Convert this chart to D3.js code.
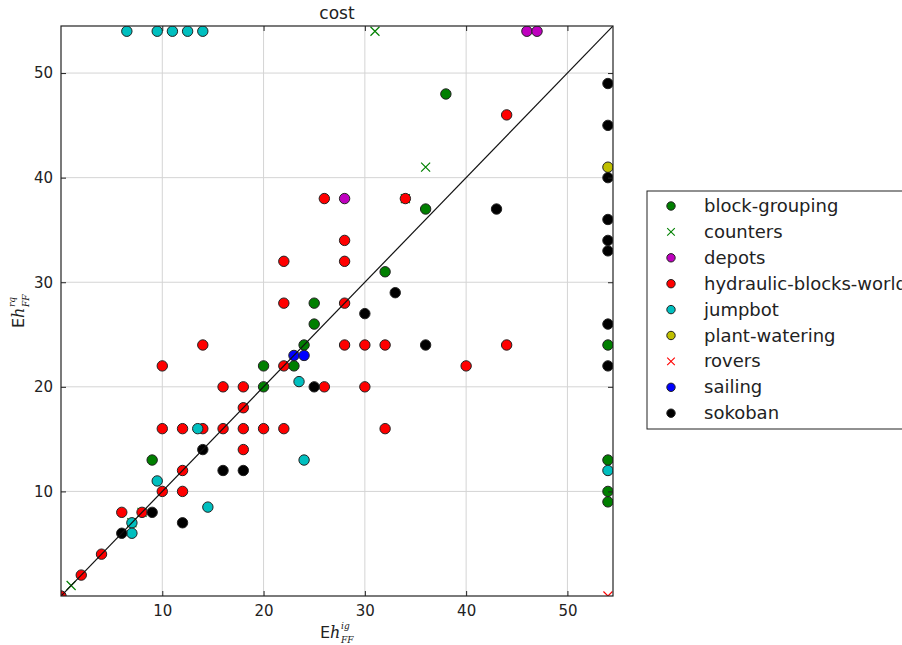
<!DOCTYPE html>
<html>
<head>
<meta charset="utf-8">
<script src="https://cdn.jsdelivr.net/npm/d3@7"></script>
<style>
  body { margin: 0; background: #fff; }
  svg { display: block; font-family: "DejaVu Sans", sans-serif; }
</style>
</head>
<body>
<div id="chart"></div>
<script>
// series values, [Eh_FF^ig, Eh_FF^rq]
const blockGrouping = [[38, 48], [36, 37], [32, 31], [25, 28], [25, 26], [24, 24], [23, 22], [20, 22], [20, 20], [9, 13],
  [54, 24], [54, 13], [54, 10], [54, 9]];
const counters = [[31, 54], [36, 41], [34, 38], [8, 8], [7, 7], [1, 1]];
const depots = [[46, 54], [47, 54], [28, 38]];
const hydraulic = [[44, 46], [26, 38], [34, 38], [28, 34], [22, 32], [28, 32], [22, 28], [28, 28], [14, 24], [28, 24],
  [30, 24], [32, 24], [44, 24], [10, 22], [22, 22], [40, 22], [16, 20], [18, 20], [26, 20], [30, 20], [18, 18],
  [10, 16], [12, 16], [14, 16], [16, 16], [18, 16], [20, 16], [22, 16], [32, 16], [18, 14], [12, 12], [12, 10],
  [10, 10], [6, 8], [8, 8], [4, 4], [2, 2], [0, 0]];
const jumpbot = [[6.5, 54], [9.5, 54], [11, 54], [12.5, 54], [14, 54], [23.5, 20.5], [24, 13], [13.5, 16], [9.5, 11],
  [14.5, 8.5], [7, 7], [7, 6], [54, 12]];
const plantWatering = [[54, 41]];
const rovers = [[54, 0]];
const sailing = [[23, 23], [24, 23]];
const sokoban = [[54, 49], [54, 45], [54, 40], [54, 36], [54, 34], [54, 33], [54, 26], [54, 22], [43, 37], [36, 24],
  [33, 29], [30, 27], [25, 20], [14, 14], [16, 12], [18, 12], [12, 7], [9, 8], [6, 6]];

const tickValues = [10, 20, 30, 40, 50];

const series = [
  { name: 'block-grouping', data: blockGrouping, color: '#007f00', shape: 'o' },
  { name: 'counters', data: counters, color: '#008000', shape: 'x' },
  { name: 'depots', data: depots, color: '#bf00bf', shape: 'o' },
  { name: 'hydraulic-blocks-world', data: hydraulic, color: '#ff0000', shape: 'o' },
  { name: 'jumpbot', data: jumpbot, color: '#00bfbf', shape: 'o' },
  { name: 'plant-watering', data: plantWatering, color: '#bfbf00', shape: 'o' },
  { name: 'rovers', data: rovers, color: '#ff0000', shape: 'x' },
  { name: 'sailing', data: sailing, color: '#0000ff', shape: 'o' },
  { name: 'sokoban', data: sokoban, color: '#000000', shape: 'o' }
];

const W = 902, H = 645;
const plot = { left: 61, right: 613, top: 26, bottom: 596 };

const svg = d3.select('#chart').append('svg')
  .attr('width', W)
  .attr('height', H);

const x = d3.scaleLinear().domain([0, 54.5]).range([plot.left, plot.right]);
const y = d3.scaleLinear().domain([0, 54.5]).range([plot.bottom, plot.top]);

svg.append('clipPath').attr('id', 'clip')
  .append('rect')
  .attr('x', plot.left).attr('y', plot.top)
  .attr('width', plot.right - plot.left)
  .attr('height', plot.bottom - plot.top);

// Grid
const grid = svg.append('g');
grid.selectAll('.gx').data(tickValues).enter().append('line')
  .attr('x1', d => x(d)).attr('x2', d => x(d))
  .attr('y1', plot.top).attr('y2', plot.bottom)
  .attr('stroke', '#d4d4d4').attr('stroke-width', 1);
grid.selectAll('.gy').data(tickValues).enter().append('line')
  .attr('y1', d => y(d)).attr('y2', d => y(d))
  .attr('x1', plot.left).attr('x2', plot.right)
  .attr('stroke', '#d4d4d4').attr('stroke-width', 1);

// Points
const pts = svg.append('g').attr('clip-path', 'url(#clip)');
series.forEach(s => {
  if (s.shape === 'o') {
    pts.selectAll(null).data(s.data).enter().append('circle')
      .attr('cx', d => x(d[0]))
      .attr('cy', d => y(d[1]))
      .attr('r', 5.2)
      .attr('fill', s.color)
      .attr('stroke', '#222')
      .attr('stroke-width', 1);
  } else {
    const r = 4.5;
    pts.selectAll(null).data(s.data).enter().append('path')
      .attr('d', d => {
        const cx = x(d[0]), cy = y(d[1]);
        return `M${cx - r},${cy - r}L${cx + r},${cy + r}M${cx - r},${cy + r}L${cx + r},${cy - r}`;
      })
      .attr('stroke', s.color)
      .attr('stroke-width', 1.2)
      .attr('fill', 'none');
  }
});

// Diagonal
svg.append('line')
  .attr('clip-path', 'url(#clip)')
  .attr('x1', x(0)).attr('y1', y(0))
  .attr('x2', x(54.5)).attr('y2', y(54.5))
  .attr('stroke', '#111').attr('stroke-width', 1.2);

// Axes (ticks pointing inward on all four sides)
const axB = svg.append('g').attr('transform', `translate(0,${plot.bottom})`)
  .call(d3.axisBottom(x).tickValues(tickValues).tickSize(-5).tickPadding(9));
const axT = svg.append('g').attr('transform', `translate(0,${plot.top})`)
  .call(d3.axisTop(x).tickValues(tickValues).tickSize(-5).tickFormat(''));
const axL = svg.append('g').attr('transform', `translate(${plot.left},0)`)
  .call(d3.axisLeft(y).tickValues(tickValues).tickSize(-5).tickPadding(8));
const axR = svg.append('g').attr('transform', `translate(${plot.right},0)`)
  .call(d3.axisRight(y).tickValues(tickValues).tickSize(-5).tickFormat(''));
[axB, axT, axL, axR].forEach(a => {
  a.select('.domain').remove();
  a.selectAll('line').attr('stroke', '#222');
  a.selectAll('text').style('font-size', '15px').attr('fill', '#222')
    .style('font-family', '"DejaVu Sans", sans-serif');
});

// Frame
svg.append('rect')
  .attr('x', plot.left).attr('y', plot.top)
  .attr('width', plot.right - plot.left)
  .attr('height', plot.bottom - plot.top)
  .attr('fill', 'none').attr('stroke', '#222').attr('stroke-width', 1.2);

// Title
svg.append('text')
  .attr('x', (plot.left + plot.right) / 2)
  .attr('y', 19)
  .attr('text-anchor', 'middle')
  .style('font-size', '17px')
  .attr('fill', '#222')
  .text('cost');

// Axis labels: "Eh" with stacked super/subscripts as separate texts
function mathLabel(g, sup) {
  const base = g.append('text').attr('fill', '#222').style('font-size', '16px');
  base.append('tspan').text('E');
  base.append('tspan').style('font-family', '"DejaVu Serif", serif').style('font-style', 'italic').text('h');
  const w = 21;
  g.append('text').attr('x', w).attr('y', -9).attr('fill', '#222')
    .style('font-size', '9px').style('font-family', '"DejaVu Serif", serif').style('font-style', 'italic')
    .text(sup);
  g.append('text').attr('x', w).attr('y', 5).attr('fill', '#222')
    .style('font-size', '9px').style('font-family', '"DejaVu Serif", serif').style('font-style', 'italic')
    .text('FF');
}
mathLabel(svg.append('g').attr('transform', 'translate(320,638)'), 'ig');
mathLabel(svg.append('g').attr('transform', 'translate(24,328) rotate(-90)'), 'rq');

// Legend
const legend = svg.append('g');
legend.append('rect')
  .attr('x', 647).attr('y', 191)
  .attr('width', 280).attr('height', 238)
  .attr('fill', '#fff').attr('stroke', '#222').attr('stroke-width', 1);
const rowY = i => 206 + i * 25.9;
series.forEach((s, i) => {
  const cy = rowY(i), cx = 671;
  if (s.shape === 'o') {
    legend.append('circle').attr('cx', cx).attr('cy', cy).attr('r', 4.2)
      .attr('fill', s.color).attr('stroke', '#222').attr('stroke-width', 1);
  } else {
    const r = 3.8;
    legend.append('path')
      .attr('d', `M${cx - r},${cy - r}L${cx + r},${cy + r}M${cx - r},${cy + r}L${cx + r},${cy - r}`)
      .attr('stroke', s.color).attr('stroke-width', 1.1).attr('fill', 'none');
  }
  legend.append('text')
    .attr('x', 704).attr('y', cy + 6)
    .style('font-size', '18px')
    .attr('fill', '#222')
    .text(s.name);
});
</script>
</body>
</html>
